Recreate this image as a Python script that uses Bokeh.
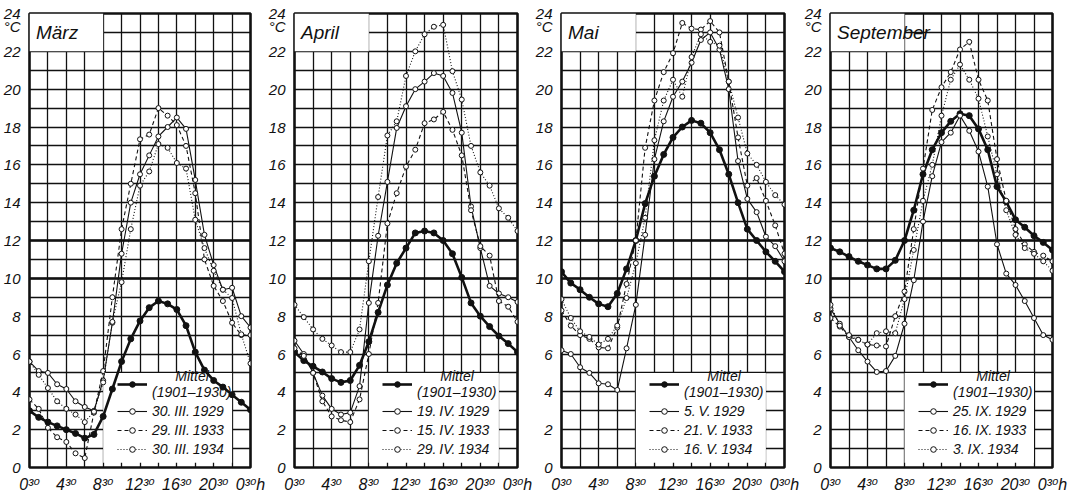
from bokeh.plotting import figure
from bokeh.layouts import row
from bokeh.models import Range1d, FixedTicker, Grid, Legend, LegendItem, Label
from bokeh.embed import file_html
from bokeh.resources import INLINE

# ---------------- data ----------------
hours = [0.5 + i for i in range(25)]          # 0:30 ... 24:30 (next day 0:30)
x_tick_values = [0.5, 4.5, 8.5, 12.5, 16.5, 20.5, 24.5]
x_tick_labels = ["0\u00b3\u2070", "4\u00b3\u2070", "8\u00b3\u2070", "12\u00b3\u2070",
                 "16\u00b3\u2070", "20\u00b3\u2070", "0\u00b3\u2070h"]
y_tick_values = [0, 2, 4, 6, 8, 10, 12, 14, 16, 18, 20, 22, 24]
unit_tick = 23.3
months = ["März", "April", "Mai", "September"]
series_names = ["\u00a0\u00a0\u00a0\u00a0\u00a0\u00a0Mittel\n(1901–1930)"]
S = "\u2009"
dates_maerz = [f"30.{S}III.{S}1929", f"29.{S}III.{S}1933", f"30.{S}III.{S}1934"]
dates_april = [f"19.{S}IV.{S}1929", f"15.{S}IV.{S}1933", f"29.{S}IV.{S}1934"]
dates_mai = [f"5.{S}V.{S}1929", f"21.{S}V.{S}1933", f"16.{S}V.{S}1934"]
dates_sept = [f"25.{S}IX.{S}1929", f"16.{S}IX.{S}1933", f"3.{S}IX.{S}1934"]

maerz_mittel = [3.0, 2.65, 2.4, 2.2, 2.0, 1.8, 1.55, 1.75, 2.7, 4.15, 5.6, 6.8, 7.75, 8.45, 8.8, 8.65, 8.35, 7.5, 6.1, 5.15, 4.6, 4.25, 3.85, 3.45, 3.05]
maerz_1929 = [5.6, 5.1, 5.0, 4.4, 4.15, 3.5, 3.2, 3.0, 4.6, 7.65, 11.3, 14.0, 15.5, 16.5, 17.5, 18.0, 18.5, 17.9, 15.2, 12.3, 10.7, 9.4, 9.5, 8.0, 7.4]
maerz_1933 = [3.6, 3.1, 2.1, 1.6, 1.35, 0.75, 0.5, 2.9, 5.1, 9.0, 12.6, 15.0, 17.35, 17.6, 19.0, 18.6, 18.1, 17.0, 14.5, 11.0, 9.6, 8.8, 7.65, 7.0, 7.0]
maerz_1934 = [5.6, 4.9, 4.2, 3.5, 3.1, 2.8, 2.4, 2.95, 4.5, 7.7, 9.8, 12.6, 14.9, 15.65, 17.1, 16.9, 16.1, 15.8, 13.1, 11.6, 10.4, 9.4, 8.96, 7.04, 5.5]

april_mittel = [6.1, 5.65, 5.35, 5.05, 4.7, 4.5, 4.6, 5.4, 6.65, 8.2, 9.65, 10.8, 11.6, 12.4, 12.5, 12.4, 12.0, 11.3, 10.05, 8.7, 8.0, 7.45, 6.95, 6.55, 6.1]
april_1929 = [6.7, 6.0, 5.0, 3.8, 3.1, 2.8, 2.9, 4.3, 8.7, 12.25, 15.1, 17.95, 19.1, 20.0, 20.4, 20.85, 20.7, 19.8, 17.7, 13.8, 11.6, 9.6, 9.2, 9.0, 8.75]
april_1933 = [6.3, 5.9, 5.0, 3.5, 2.7, 2.5, 2.4, 3.6, 6.0, 8.7, 12.9, 14.5, 15.9, 16.8, 18.2, 18.4, 18.8, 17.85, 16.5, 13.6, 11.7, 11.2, 8.8, 8.5, 7.7]
april_1934 = [8.6, 7.95, 7.3, 6.8, 6.45, 6.1, 6.1, 7.3, 10.9, 14.3, 17.55, 18.3, 20.7, 22.0, 22.9, 23.3, 23.4, 20.95, 19.45, 17.0, 15.6, 14.9, 13.7, 13.2, 12.5]

mai_mittel = [10.35, 9.75, 9.4, 9.0, 8.65, 8.5, 9.2, 10.5, 12.0, 13.95, 15.4, 16.55, 17.45, 18.0, 18.35, 18.2, 17.7, 16.8, 15.5, 14.0, 12.6, 12.0, 11.4, 10.9, 10.35]
mai_1929 = [6.2, 6.0, 5.3, 5.0, 4.45, 4.4, 4.1, 6.3, 8.6, 12.3, 16.3, 18.3, 19.6, 20.4, 21.4, 22.6, 23.0, 22.1, 20.0, 16.2, 14.2, 13.5, 12.2, 11.7, 10.9]
mai_1933 = [8.3, 7.5, 7.0, 6.8, 6.35, 6.3, 7.4, 9.7, 12.0, 16.9, 19.4, 20.9, 21.9, 23.5, 23.2, 23.15, 23.6, 23.0, 20.4, 17.45, 14.9, 15.3, 14.1, 12.8, 11.3]
mai_1934 = [8.9, 7.9, 7.2, 6.9, 6.5, 6.8, 7.5, 8.96, 10.8, 13.2, 17.3, 19.4, 20.5, 19.6, 21.7, 22.9, 22.5, 22.3, 20.4, 18.5, 16.6, 16.0, 15.1, 14.4, 13.9]

sept_mittel = [11.6, 11.4, 11.15, 10.9, 10.7, 10.5, 10.5, 10.95, 12.0, 13.6, 15.5, 16.8, 17.7, 18.3, 18.7, 18.6, 17.9, 16.8, 14.85, 14.05, 13.1, 12.7, 12.25, 11.9, 11.5]
sept_1929 = [8.4, 7.6, 6.9, 6.2, 5.6, 5.05, 5.1, 5.9, 7.6, 9.9, 13.0, 15.4, 17.2, 17.7, 18.6, 17.8, 16.7, 14.85, 11.8, 10.25, 9.65, 8.8, 7.9, 7.0, 6.75]
sept_1933 = [7.9, 7.45, 6.9, 6.75, 6.5, 6.45, 6.4, 8.0, 9.3, 12.6, 15.8, 18.9, 20.1, 20.9, 22.1, 22.5, 20.5, 19.4, 16.3, 14.1, 12.6, 11.8, 11.4, 11.2, 10.9]
sept_1934 = [8.6, 7.5, 7.0, 6.75, 6.5, 7.1, 7.2, 7.1, 8.9, 11.5, 14.1, 16.0, 18.6, 20.5, 21.3, 20.5, 19.5, 17.5, 15.5, 13.6, 12.3, 11.6, 11.3, 10.9, 10.4]

panels = [
    (months[0], dates_maerz, [maerz_mittel, maerz_1929, maerz_1933, maerz_1934]),
    (months[1], dates_april, [april_mittel, april_1929, april_1933, april_1934]),
    (months[2], dates_mai, [mai_mittel, mai_1929, mai_1933, mai_1934]),
    (months[3], dates_sept, [sept_mittel, sept_1929, sept_1933, sept_1934]),
]

# ---------------- styling / layout ----------------
FONT = "'Liberation Sans Narrow', 'Liberation Sans', 'DejaVu Sans', sans-serif"
INK = "#111111"
borders = [(26, 15), (26, 15), (26, 17), (26, 30)]
frame_widths = [224, 226, 226, 225]
TOP, BOTTOM, HEIGHT = 13, 26, 495
title_box = (0.5, 8.5, 22, 24)       # left, right, bottom, top (data units)
legend_box = (8.5, 22.5, 0.25, 5)

figs = []
for (month, dates, values), (bl, br), fw in zip(panels, borders, frame_widths):
    p = figure(width=bl + fw + br, height=HEIGHT, output_backend="svg", toolbar_location=None,
               x_range=Range1d(0.5, 24.5), y_range=Range1d(0, 24),
               min_border_left=bl, min_border_right=br, min_border_top=TOP, min_border_bottom=BOTTOM)
    p.outline_line_color = INK
    p.outline_line_width = 2.6
    p.background_fill_color = "white"
    p.border_fill_color = "white"

    # grids
    p.xgrid.ticker = FixedTicker(ticks=[0.5 + 2 * k for k in range(13)])
    p.ygrid.ticker = FixedTicker(ticks=list(range(25)))
    for g in (p.xgrid[0], p.ygrid[0]):
        g.grid_line_color = INK
        g.grid_line_width = 1.3
        g.grid_line_alpha = 1.0
    p.add_layout(Grid(dimension=1, ticker=FixedTicker(ticks=[10, 12]),
                      grid_line_color=INK, grid_line_width=2.6))

    # axes
    p.xaxis.ticker = FixedTicker(ticks=x_tick_values)
    p.xaxis.major_label_overrides = {v: l for v, l in zip(x_tick_values, x_tick_labels)}
    p.yaxis.ticker = FixedTicker(ticks=y_tick_values + [unit_tick])
    p.yaxis.major_label_overrides = {unit_tick: "°C"}
    for ax in (p.xaxis[0], p.yaxis[0]):
        ax.axis_line_color = None
        ax.major_tick_line_color = None
        ax.minor_tick_line_color = None
        ax.major_label_text_font = FONT
        ax.major_label_text_font_style = "italic"
        ax.major_label_text_font_size = "15px"
        ax.major_label_text_color = INK
        ax.major_label_standoff = 3
    p.xaxis.major_label_text_font_size = "16px"
    p.xaxis.major_label_standoff = 2

    # white boxes over grid
    p.quad(left=[title_box[0]], right=[title_box[1]], bottom=[title_box[2]], top=[title_box[3]],
           fill_color="white", line_color=None)
    p.quad(left=[legend_box[0]], right=[legend_box[1]], bottom=[legend_box[2]], top=[legend_box[3]],
           fill_color="white", line_color=None)

    p.add_layout(Label(x=1.2, y=23, text=month, text_font=FONT, text_font_style="italic",
                       text_font_size="19px", text_baseline="middle", text_color=INK))

    styles = [dict(lw=2.6, dash="solid", fill=INK, size=6),
              dict(lw=1.1, dash="solid", fill="white", size=5),
              dict(lw=1.1, dash="4 3", fill="white", size=5),
              dict(lw=1.1, dash="1 2", fill="white", size=5)]
    labels = series_names + dates
    items = []
    for vals, st, lab in zip(values, styles, labels):
        lr = p.line(hours, vals, line_color=INK, line_width=st["lw"], line_dash=st["dash"])
        sr = p.scatter(hours, vals, marker="circle", size=st["size"], fill_color=st["fill"],
                       line_color=INK, line_width=1)
        items.append(LegendItem(label=lab, renderers=[lr, sr]))

    leg = Legend(items=items, location=(88, 10), padding=2, margin=0, spacing=3,
                 border_line_color=None, background_fill_alpha=0,
                 glyph_width=30, glyph_height=14, label_height=14, label_standoff=5,
                 label_text_font=FONT, label_text_font_style="italic",
                 label_text_font_size="14px", label_text_color=INK)
    p.add_layout(leg)
    figs.append(p)

layout = row(*figs, spacing=0)
open("out.html", "w").write(file_html(layout, INLINE))
